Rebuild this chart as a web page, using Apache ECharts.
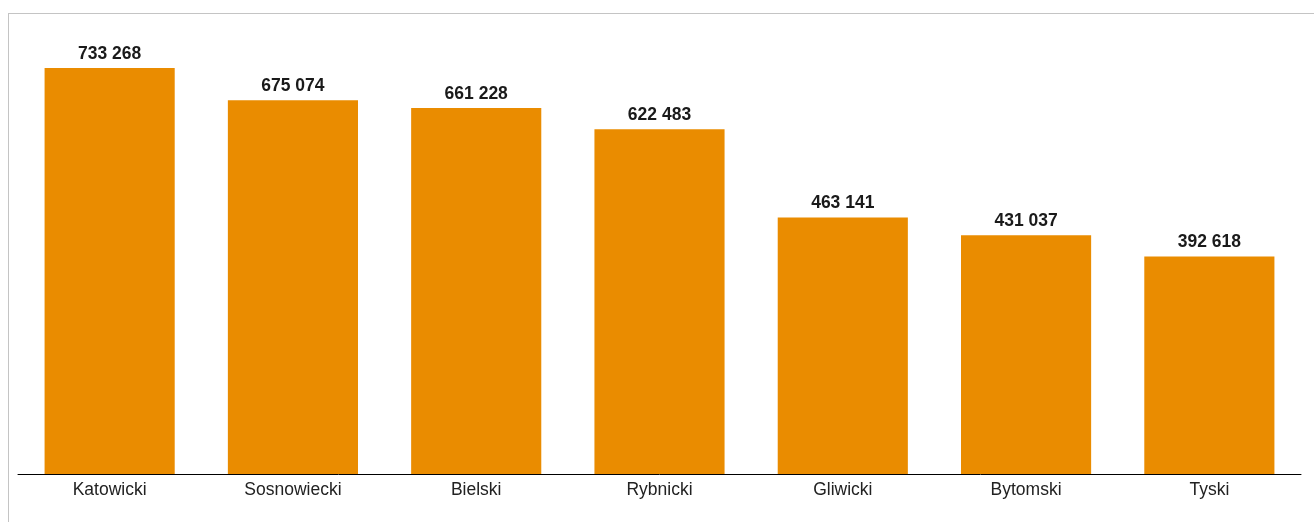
<!DOCTYPE html>
<html><head><meta charset="utf-8">
<script src="https://cdn.jsdelivr.net/npm/echarts@6/dist/echarts.min.js"></script>
<style>
html,body{margin:0;padding:0;background:#fff;overflow:hidden;}
#frame{position:absolute;left:8px;top:13px;width:1400px;height:600px;border:1px solid #c4c4c4;}
#c{position:absolute;left:0;top:0;width:1314px;height:522px;}
</style></head>
<body>
<div id="frame"></div>
<div id="c"></div>
<script>
const categories = ['Katowicki','Sosnowiecki','Bielski','Rybnicki','Gliwicki','Bytomski','Tyski'];
const values = [733268, 675074, 661228, 622483, 463141, 431037, 392618];

const fmt = v => String(v).replace(/\B(?=(\d{3})+(?!\d))/g, ' ');
const chart = echarts.init(document.getElementById('c'), null, {renderer:'canvas'});
chart.setOption({
  animation:false,
  grid:{left:18, right:13, top:14, bottom:48, containLabel:false},
  xAxis:{type:'category', data:categories,
    axisLine:{lineStyle:{color:'#000', width:1}},
    axisTick:{show:false},
    axisLabel:{color:'#222', fontFamily:'Liberation Sans, Arial', fontSize:17.5, margin:7}},
  yAxis:{type:'value', min:0, max:830800, show:false, splitLine:{show:false}},
  series:[{type:'bar', data:values, barCategoryGap:'29%',
    itemStyle:{color:'#EA8C00'},
    label:{show:true, position:'top', distance:5, color:'#1a1a1a', fontWeight:'bold',
      fontFamily:'Liberation Sans, Arial', fontSize:17.5, formatter:p=>fmt(p.value)}}]
});
</script>
</body></html>
